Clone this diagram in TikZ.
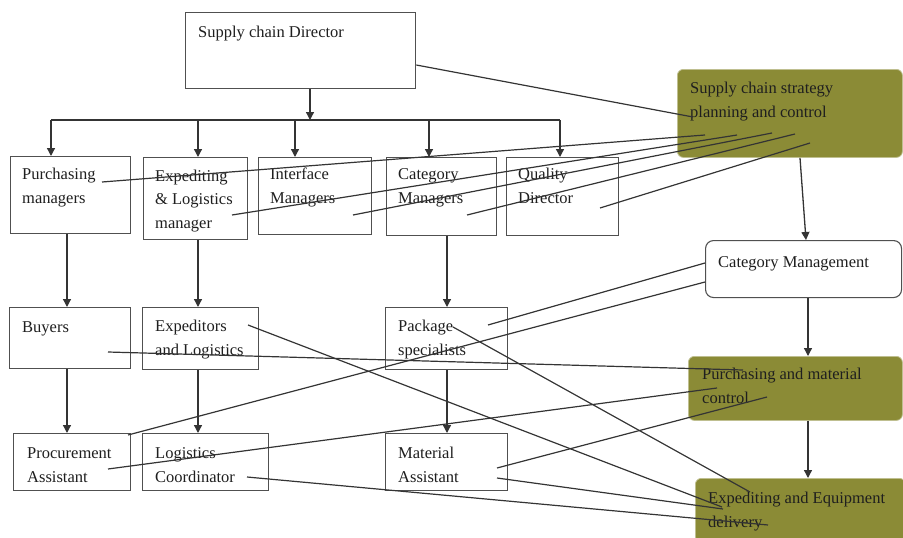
\documentclass[tikz,border=0pt]{standalone}
\usepackage{fontspec}
\setmainfont{Liberation Serif}
\usetikzlibrary{arrows.meta}
\definecolor{olivebox}{RGB}{139,139,54}
\definecolor{ink}{RGB}{52,52,52}
\definecolor{frame}{RGB}{80,80,80}
\begin{document}
\begin{tikzpicture}[x=1pt,y=-1pt,
  box/.style={draw=frame, line width=1.3pt, fill=white, anchor=north west, inner sep=0pt},
  stagebox/.style={fill=olivebox, draw=olivebox!55!white, line width=0.8pt, rounded corners=6pt, anchor=north west, inner sep=0pt},
  softbox/.style={draw=frame, line width=1.1pt, fill=white, rounded corners=8pt, anchor=north west, inner sep=0pt},
  txt/.style={anchor=base west, inner sep=0pt, align=left, font=\fontsize{16.5}{23.5}\selectfont, text=black!88},
  arr/.style={draw=ink, line width=1.3pt, -{Triangle[width=8pt,length=8pt]}},
  link/.style={draw=ink, line width=1.2pt}]
\useasboundingbox (0,0) rectangle (903,538);

% boxes
\node[box, minimum width=230pt, minimum height=76pt] (dir) at (185,12) {};
\node[box, minimum width=120pt, minimum height=77pt] (pm) at (10,156) {};
\node[box, minimum width=104pt, minimum height=82pt] (elm) at (143,157) {};
\node[box, minimum width=113pt, minimum height=77pt] (im) at (258,157) {};
\node[box, minimum width=110pt, minimum height=78pt] (cm) at (386,157) {};
\node[box, minimum width=112pt, minimum height=78pt] (qd) at (506,157) {};
\node[box, minimum width=121pt, minimum height=61pt] (buy) at (9,307) {};
\node[box, minimum width=116pt, minimum height=62pt] (exl) at (142,307) {};
\node[box, minimum width=122pt, minimum height=62pt] (pkg) at (385,307) {};
\node[box, minimum width=117pt, minimum height=57pt] (pa) at (13,433) {};
\node[box, minimum width=126pt, minimum height=57pt] (lc) at (142,433) {};
\node[box, minimum width=122pt, minimum height=57pt] (ma) at (385,433) {};
\node[stagebox, minimum width=225pt, minimum height=88pt] (scs) at (677,69) {};
\node[softbox, minimum width=196pt, minimum height=57pt] (catm) at (705,240) {};
\node[stagebox, minimum width=214pt, minimum height=64pt] (pmc) at (688,356) {};
\node[stagebox, minimum width=210pt, minimum height=64pt] (eed) at (695,478) {};

% texts (anchored on the baseline of their last line)
\node[txt] (dirt) at (198,37) {Supply chain Director};
\node[txt] (pmt) at (22,203) {Purchasing\\managers};
\node[txt] (elmt) at (155,228) {Expediting\\\& Logistics\\manager};
\node[txt] (imt) at (270,203) {Interface\\Managers};
\node[txt] (cmt) at (398,203) {Category\\Managers};
\node[txt] (qdt) at (518,203) {Quality\\Director};
\node[txt] (buyt) at (22,332) {Buyers};
\node[txt] (exlt) at (155,355) {Expeditors\\and Logistics};
\node[txt] (pkgt) at (398,355) {Package\\specialists};
\node[txt] (pat) at (27,482) {Procurement\\Assistant};
\node[txt] (lct) at (155,482) {Logistics\\Coordinator};
\node[txt] (mat) at (398,482) {Material\\Assistant};
\node[txt] (scst) at (690,117) {Supply chain strategy\\planning and control};
\node[txt] (catmt) at (718,267) {Category Management};
\node[txt] (pmct) at (702,403) {Purchasing and material\\control};
\node[txt] (eedt) at (708,527) {Expediting and Equipment\\delivery};

% reporting tree
\coordinate (bd) at (310,120);
\coordinate (b1) at (51,120);
\coordinate (b2) at (198,120);
\coordinate (b3) at (295,120);
\coordinate (b4) at (429,120);
\coordinate (b5) at (560,120);
\draw[arr] (bd |- dir.south) -- (bd);
\draw[ink, line width=1.3pt] (b1) -- (b5);
\draw[arr] (b1) -- (b1 |- pm.north);
\draw[arr] (b2) -- (b2 |- elm.north);
\draw[arr] (b3) -- (b3 |- im.north);
\draw[arr] (b4) -- (b4 |- cm.north);
\draw[arr] (b5) -- (b5 |- qd.north);

\coordinate (v1) at (67,0);
\coordinate (v2) at (198,0);
\coordinate (v3) at (447,0);
\coordinate (v4) at (808,0);
\draw[arr] (v1 |- pm.south) -- (v1 |- buy.north);
\draw[arr] (v2 |- elm.south) -- (v2 |- exl.north);
\draw[arr] (v3 |- cm.south) -- (v3 |- pkg.north);
\draw[arr] (v1 |- buy.south) -- (v1 |- pa.north);
\draw[arr] (v2 |- exl.south) -- (v2 |- lc.north);
\draw[arr] (v3 |- pkg.south) -- (v3 |- ma.north);
\draw[arr] ([xshift=123pt]scs.south west) -- ([xshift=101pt]catm.north west);
\draw[arr] (v4 |- catm.south) -- (v4 |- pmc.north);
\draw[arr] (v4 |- pmc.south) -- (v4 |- eed.north);

% cross links to the process stages
\draw[link] ([shift={(0,53)}]dir.north east) -- ([shift={(16,48)}]scs.north west);
\draw[link] ([shift={(92,26)}]pm.north west) -- ([shift={(28,66)}]scs.north west);
\draw[link] ([shift={(89,58)}]elm.north west) -- ([shift={(60,66)}]scs.north west);
\draw[link] ([shift={(95,58)}]im.north west) -- ([shift={(95,64)}]scs.north west);
\draw[link] ([shift={(81,58)}]cm.north west) -- ([shift={(118,65)}]scs.north west);
\draw[link] ([shift={(94,51)}]qd.north west) -- ([shift={(133,74)}]scs.north west);
\draw[link] ([shift={(103,18)}]pkg.north west) -- ([shift={(0,23)}]catm.north west);
\draw[link] ([shift={(115,2)}]pa.north west) -- ([shift={(0,42)}]catm.north west);
\draw[link] ([shift={(99,45)}]buy.north west) -- ([shift={(55,14)}]pmc.north west);
\draw[link] ([shift={(95,36)}]pa.north west) -- ([shift={(29,32)}]pmc.north west);
\draw[link] ([shift={(112,35)}]ma.north west) -- ([shift={(79,41)}]pmc.north west);
\draw[link] ([shift={(106,18)}]exl.north west) -- ([shift={(27,29)}]eed.north west);
\draw[link] ([shift={(68,20)}]pkg.north west) -- ([shift={(55,14)}]eed.north west);
\draw[link] ([shift={(112,45)}]ma.north west) -- ([shift={(28,31)}]eed.north west);
\draw[link] ([shift={(105,44)}]lc.north west) -- ([shift={(73,47)}]eed.north west);
\end{tikzpicture}
\end{document}
